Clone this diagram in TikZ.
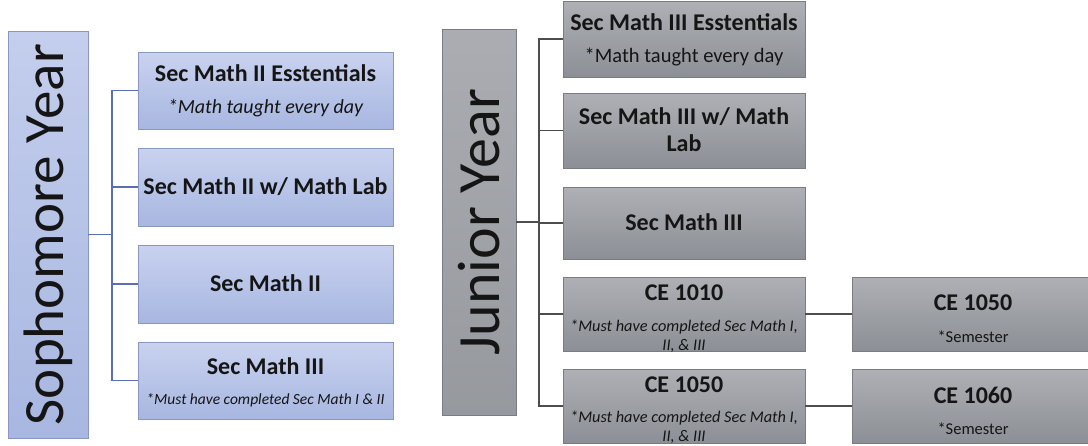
\documentclass[tikz,border=0pt]{standalone}
\usepackage{fontspec}
\setmainfont{Carlito}
\begin{document}
\begin{tikzpicture}[x=1pt,y=-1pt]
\definecolor{sbtop}{HTML}{C9D2EF}
\definecolor{sbbot}{HTML}{A8B7E1}
\definecolor{sbord}{HTML}{8A97C0}
\definecolor{sline}{HTML}{5A6EB4}
\definecolor{jbtop}{HTML}{AEB0B5}
\definecolor{jbbot}{HTML}{8C8F95}
\definecolor{jbord}{HTML}{7A7C80}
\definecolor{jline}{HTML}{4D4D4D}
\definecolor{txt}{HTML}{151515}
\tikzset{
  sbox/.style={draw=sbord, line width=0.8pt, top color=sbtop, bottom color=sbbot, inner sep=0pt},
  jbox/.style={draw=jbord, line width=0.8pt, top color=jbtop, bottom color=jbbot, inner sep=0pt},
  sconn/.style={draw=sline, line width=1.3pt},
  jconn/.style={draw=jline, line width=1.6pt},
  ttl/.style={text=txt, inner sep=0pt, font=\bfseries\fontsize{24}{28}\selectfont},
  sub/.style={text=txt, inner sep=0pt, font=\itshape\fontsize{20}{23}\selectfont},
  subup/.style={text=txt, inner sep=0pt, font=\fontsize{20.5}{23}\selectfont},
  note/.style={text=txt, inner sep=0pt, font=\itshape\fontsize{15.5}{18}\selectfont},
  notej/.style={text=txt, inner sep=0pt, font=\itshape\fontsize{16.3}{19}\selectfont},
  sem/.style={text=txt, inner sep=0pt, font=\fontsize{16.5}{19}\selectfont},
  year/.style={text=txt, inner sep=0pt, rotate=90}
}
\useasboundingbox (0,0) rectangle (1088,445);
\fill[white] (0,0) rectangle (1088,445);

% Sophomore column
\node[sbox, minimum width=80pt, minimum height=407pt, top color=sbtop!85!sbbot] (soph) at (48,234.5) {};
\node[year, font=\fontsize{57}{60}\selectfont] (sophlbl) at (soph.center) {Sophomore Year};

\node[sbox, minimum width=255pt, minimum height=77pt] (s1) at (265.5,90.5) {};
\node[ttl] (s1t) at (265.5,73) {Sec Math II Esstentials};
\node[sub] (s1s) at (265.5,108) {*Math taught every day};

\node[sbox, minimum width=255pt, minimum height=78pt] (s2) at (265.5,187) {};
\node[ttl] (s2t) at (265.5,187) {Sec Math II w/ Math Lab};

\node[sbox, minimum width=255pt, minimum height=78pt] (s3) at (265.5,284) {};
\node[ttl] (s3t) at (265.5,283) {Sec Math II};

\node[sbox, minimum width=255pt, minimum height=77pt] (s4) at (265.5,380.5) {};
\node[ttl] (s4t) at (265.5,366) {Sec Math III};
\node[note] (s4s) at (265.5,400) {*Must have completed Sec Math I \& II};

\coordinate (sbus) at (112,0);
\draw[sconn] (soph.east) -- (soph.east -| sbus);
\draw[sconn] (s1.west) -- (s1.west -| sbus) -- (s4.west -| sbus) -- (s4.west);
\draw[sconn] (s2.west) -- (s2.west -| sbus);
\draw[sconn] (s3.west) -- (s3.west -| sbus);

% Junior column
\node[jbox, minimum width=74pt, minimum height=386pt, top color=jbtop!90!jbbot, bottom color=jbbot!70!jbtop] (jun) at (479,222) {};
\node[year, font=\fontsize{60}{64}\selectfont] (junlbl) at (jun.center) {Junior Year};

\node[jbox, minimum width=242pt, minimum height=76pt] (j1) at (684,39) {};
\node[ttl] (j1t) at (684,22) {Sec Math III Esstentials};
\node[subup] (j1s) at (684,57) {*Math taught every day};

\node[jbox, minimum width=242pt, minimum height=75pt] (j2) at (684,130.5) {};
\node[ttl] (j2t) at (684,117) {Sec Math III w/ Math};
\node[ttl] (j2u) at (684,143) {Lab};

\node[jbox, minimum width=242pt, minimum height=72pt] (j3) at (684,223) {};
\node[ttl] (j3t) at (684,222) {Sec Math III};

\node[jbox, minimum width=242pt, minimum height=74pt] (j4) at (684,314) {};
\node[ttl] (j4t) at (684,293) {CE 1010};
\node[notej] (j4s) at (684,327) {*Must have completed Sec Math I,};
\node[notej] (j4u) at (684,346) {II, \& III};

\node[jbox, minimum width=242pt, minimum height=74pt] (j5) at (684,406) {};
\node[ttl] (j5t) at (684,385) {CE 1050};
\node[notej] (j5s) at (684,418) {*Must have completed Sec Math I,};
\node[notej] (j5u) at (684,437) {II, \& III};

\node[jbox, minimum width=242pt, minimum height=74pt] (r1) at (973,314) {};
\node[ttl] (r1t) at (973,303) {CE 1050};
\node[sem] (r1s) at (973,337) {*Semester};

\node[jbox, minimum width=242pt, minimum height=74pt] (r2) at (973,406) {};
\node[ttl] (r2t) at (973,395) {CE 1060};
\node[sem] (r2s) at (973,429) {*Semester};

\coordinate (jbus) at (539,0);
\draw[jconn] (jun.east) -- (jun.east -| jbus);
\draw[jconn] (j1.west) -- (j1.west -| jbus) -- (j5.west -| jbus) -- (j5.west);
\draw[jconn] (j2.west) -- (j2.west -| jbus);
\draw[jconn] (j3.west) -- (j3.west -| jbus);
\draw[jconn] (j4.west) -- (j4.west -| jbus);
\draw[jconn] (j4.east) -- (r1.west);
\draw[jconn] (j5.east) -- (r2.west);
\end{tikzpicture}
\end{document}
